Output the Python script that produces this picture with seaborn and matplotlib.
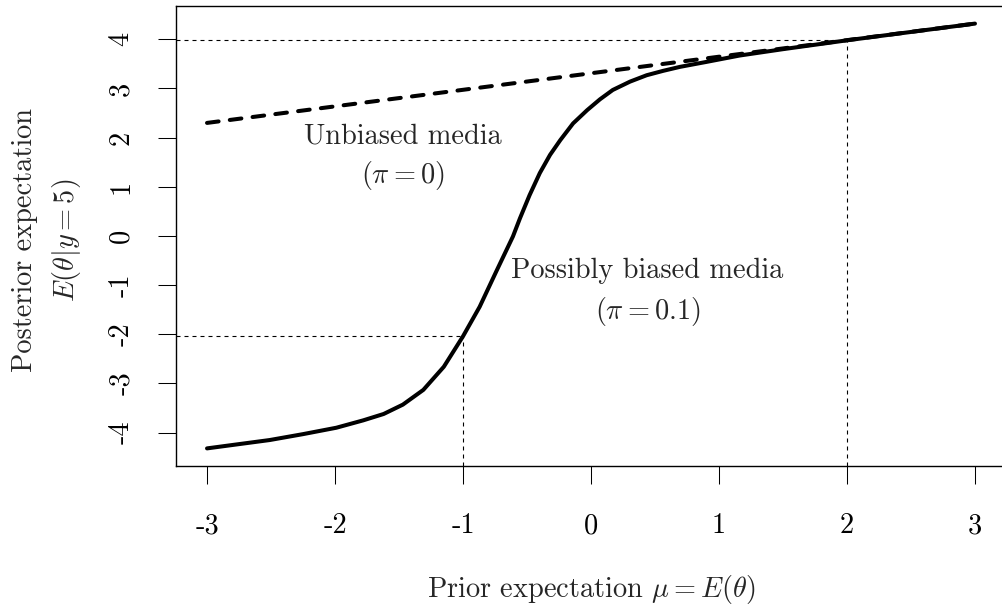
import matplotlib
matplotlib.use("Agg")
import matplotlib.pyplot as plt
import seaborn as sns
import pandas as pd

# Prior expectation mu and posterior expectation E(theta | y = 5)
mu_biased = [-3.0, -2.77, -2.51, -2.25, -1.99, -1.78, -1.62, -1.47, -1.31, -1.15,
             -1.0, -0.87, -0.74, -0.61, -0.555, -0.48, -0.40, -0.32, -0.24, -0.14,
             -0.03, 0.07, 0.17, 0.305, 0.435, 0.565, 0.695, 0.90, 1.16, 1.5,
             2.0, 2.5, 3.0]
post_biased = [-4.32, -4.24, -4.15, -4.03, -3.90, -3.75, -3.62, -3.43, -3.13, -2.66,
               -2.04, -1.44, -0.72, -0.01, 0.36, 0.83, 1.28, 1.65, 1.95, 2.29,
               2.56, 2.78, 2.97, 3.14, 3.27, 3.36, 3.44, 3.54, 3.67, 3.80,
               3.98, 4.15, 4.32]

mu_unbiased = [-3.0, 3.0]
post_unbiased = [2.30, 4.32]

# Reference points marked with dotted guides
guide_mu = [-1.0, 2.0]

x_ticks = [-3, -2, -1, 0, 1, 2, 3]
y_ticks = [-4, -3, -2, -1, 0, 1, 2, 3, 4]

sns.set_style("ticks")
plt.rcParams["font.family"] = ["cmr10", "DejaVu Sans"]
plt.rcParams["mathtext.fontset"] = "cm"
plt.rcParams["axes.unicode_minus"] = False
plt.rcParams["axes.formatter.use_mathtext"] = True

W, H = 1003, 609
fig = plt.figure(figsize=(W / 100, H / 100), dpi=100)
left_px, right_px, top_px, bottom_px = 176.3, 1005.7, 5.9, 465.6
ax = fig.add_axes([left_px / W, 1 - bottom_px / H,
                   (right_px - left_px) / W, (bottom_px - top_px) / H])

xlim = (-3.24, 3.24)
ylim = (-4.67, 4.68)
ax.set_xlim(*xlim)
ax.set_ylim(*ylim)

# dotted guides from the axes to the curve
for m in guide_mu:
    v = post_biased[mu_biased.index(m)]
    ax.plot([xlim[0], m], [v, v], color="black", lw=0.8,
            linestyle=(0, (3.6, 3.6)), zorder=1)
    ax.plot([m, m], [ylim[0], v], color="black", lw=0.8,
            linestyle=(0, (3.6, 3.6)), zorder=1)

df_b = pd.DataFrame({"mu": mu_biased, "post": post_biased})
df_u = pd.DataFrame({"mu": mu_unbiased, "post": post_unbiased})

sns.lineplot(data=df_b, x="mu", y="post", ax=ax, color="black", lw=2.9,
             sort=False, estimator=None, zorder=3)
ax.lines[-1].set_solid_capstyle("round")
ax.lines[-1].set_solid_joinstyle("round")
sns.lineplot(data=df_u, x="mu", y="post", ax=ax, color="black", lw=2.9,
             sort=False, estimator=None, zorder=3)
ax.lines[-1].set_dashes((2.9, 2.8))
ax.lines[-1].set_dash_capstyle("round")

fs = 20.4
ax.text(-1.47, 2.03, "Unbiased media", ha="center", va="center", fontsize=fs)
ax.text(-1.47, 1.24, r"$(\pi = 0)$", ha="center", va="center", fontsize=fs)
ax.text(0.44, -0.71, "Possibly biased media", ha="center", va="center", fontsize=fs)
ax.text(0.44, -1.53, r"$(\pi = 0.1)$", ha="center", va="center", fontsize=fs)

ax.set_xticks(x_ticks)
ax.set_xticklabels([str(t) for t in x_ticks])
ax.set_yticks(y_ticks)
ax.set_yticklabels([str(t) for t in y_ticks], rotation=90, va="center")
ax.tick_params(axis="both", direction="out", length=13, width=0.75,
               labelsize=fs, color="black", labelcolor="black")
ax.tick_params(axis="x", pad=21)
ax.tick_params(axis="y", pad=17)

for s in ax.spines.values():
    s.set_visible(True)
    s.set_linewidth(1.0)
    s.set_color("black")

ax.set_xlabel(r"Prior expectation $\mu = E(\theta)$", fontsize=fs)
ax.xaxis.set_label_coords(0.5, (bottom_px - 590) / (bottom_px - top_px))
ax.xaxis.label.set_va("center")
ax.set_ylabel("Posterior expectation\n" + r"$E(\theta|y = 5)$", fontsize=fs,
              linespacing=1.5)
ax.yaxis.set_label_coords((47 - left_px) / (right_px - left_px),
                          (bottom_px - 240) / (bottom_px - top_px))
ax.yaxis.label.set_va("center")
ax.yaxis.label.set_ha("center")

fig.savefig("out.png", dpi=100)
